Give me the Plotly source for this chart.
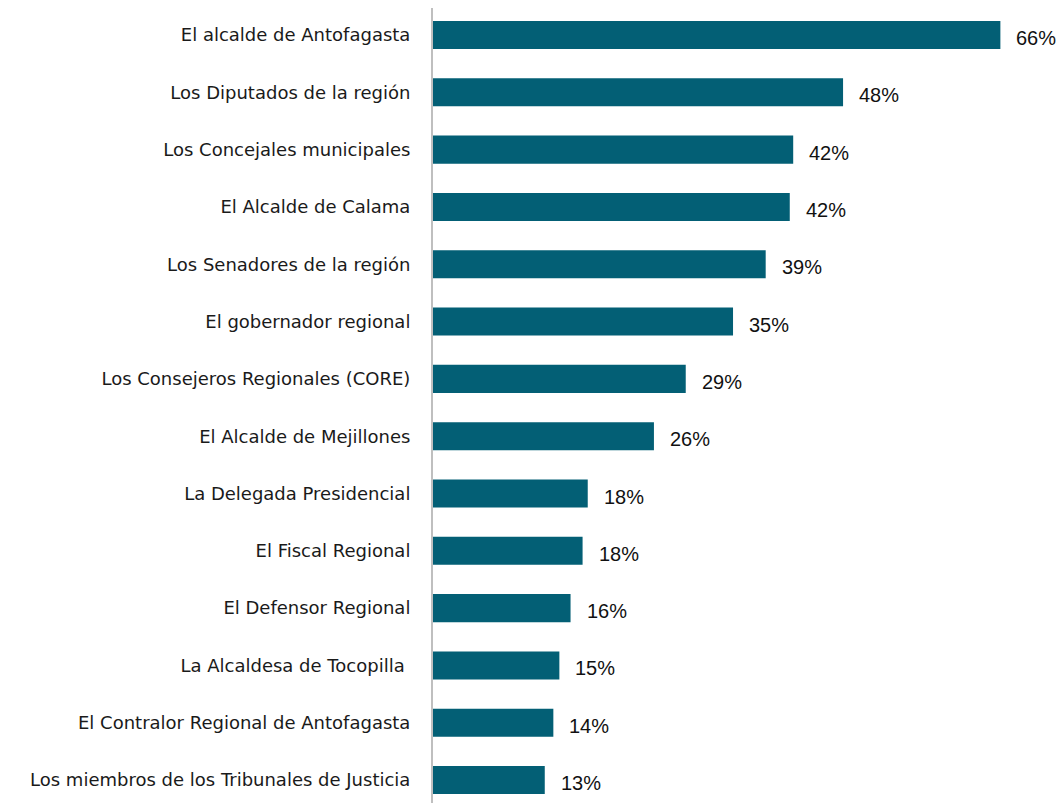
import plotly.graph_objects as go

# Confianza en autoridades regionales (%)
categorias = [
    "El alcalde de Antofagasta",
    "Los Diputados de la región",
    "Los Concejales municipales",
    "El Alcalde de Calama",
    "Los Senadores de la región",
    "El gobernador regional",
    "Los Consejeros Regionales (CORE)",
    "El Alcalde de Mejillones",
    "La Delegada Presidencial",
    "El Fiscal Regional",
    "El Defensor Regional",
    "La Alcaldesa de Tocopilla ",
    "El Contralor Regional de Antofagasta",
    "Los miembros de los Tribunales de Justicia",
]
valores = [66.0, 47.7, 41.9, 41.5, 38.7, 34.9, 29.4, 25.7, 18.0, 17.4, 16.0, 14.7, 14.0, 13.0]
etiquetas = ["66%", "48%", "42%", "42%", "39%", "35%", "29%", "26%",
             "18%", "18%", "16%", "15%", "14%", "13%"]

fig = go.Figure(go.Bar(
    x=valores,
    y=categorias,
    orientation="h",
    width=0.49,
    marker=dict(color="#035f75", line=dict(width=0)),
    hoverinfo="skip",
))

# etiquetas de porcentaje a la derecha de cada barra
for cat, val, txt in zip(categorias, valores, etiquetas):
    fig.add_annotation(
        x=val, y=cat, text=txt, showarrow=False,
        xanchor="left", xshift=14, yshift=-3,
        font=dict(family="Liberation Sans, Arial", size=20, color="#111111"),
    )

# la página html agrega 8px de margen, se compensa aquí
fig.update_layout(
    width=1056, height=795,
    margin=dict(l=425, r=0, t=0, b=0),
    plot_bgcolor="white", paper_bgcolor="white",
    showlegend=False,
    xaxis=dict(range=[0, 73.4], visible=False),
    yaxis=dict(
        range=[13.40, -0.471],
        showline=True, linecolor="#bfbfbf", linewidth=2,
        ticks="outside", ticklen=17, tickcolor="rgba(0,0,0,0)",
        showgrid=False,
        tickfont=dict(family="DejaVu Sans", size=18, color="#1a1a1a"),
    ),
)

fig.write_html("out.html")
